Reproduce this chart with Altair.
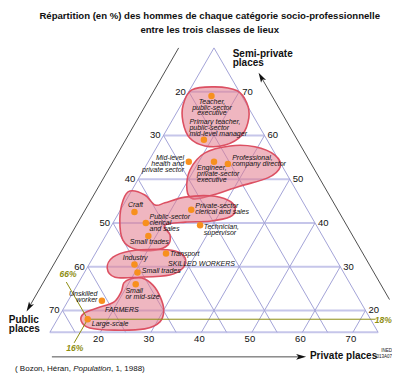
import altair as alt
import pandas as pd

# ---------------- data ----------------
title_lines = [
    "Répartition (en %) des hommes de chaque catégorie socio-professionnelle",
    "entre les trois classes de lieux",
]

categories = [
    "Teacher,\npublic-sector\nexecutive",
    "Primary teacher,\npublic-sector\nmid-level manager",
    "Mid-level\nhealth and\nprivate sector",
    "Engineer,\nprivate-sector\nexecutive",
    "Professional,\ncompany director",
    "Private-sector\nclerical and sales",
    "Technician,\nsupervisor",
    "Public-sector\nclerical\nand sales",
    "Craft",
    "Small trades",
    "Transport",
    "Industry",
    "Small trades",
    "Small\nor mid-size",
    "Unskilled\nworker",
    "Large-scale",
]
private_places = [15, 18.5, 18, 23, 26, 24, 27.5, 16.5, 13, 18.5, 24, 19, 20.5, 21.5, 16.7, 16]
semi_private = [69, 59, 54, 54, 53.5, 43, 39.5, 40, 42.5, 37, 33, 30.5, 28.7, 26, 22.2, 18]
public_places = [round(100 - p - s, 1) for p, s in zip(private_places, semi_private)]

group_names = ["SKILLED WORKERS", "FARMERS"]
group_private = [25.6, 18.4]
group_semi = [30.6, 20.0]

# outlines of the shaded groups, as (private %, semi-private %)
blob_private = {
    "A": [10.4, 14.6, 19.5, 22.8, 24.9, 25.5, 23.3, 19.4, 15.5, 12.3, 10.4],
    "B": [20.9, 19.2, 20.2, 24.4, 29.4, 34.3, 36.7, 35.5, 30.9, 26.1, 23.1],
    "C": [9.7, 13.1, 16.3, 18.0, 21.3, 26.1, 30.2, 32.5, 32.5, 29.0, 24.2, 20.5, 22.7,
          23.4, 21.4, 17.4, 13.9, 11.0, 9.4],
    "D": [14.0, 13.9, 16.6, 21.3, 25.5, 28.3, 29.0, 27.2, 21.5, 16.6],
    "E": [19.8, 22.0, 25.0, 27.8, 30.0, 30.6, 28.4, 22.6, 17.4, 14.9, 14.6, 16.7, 19.2,
          19.5, 19.0],
}
blob_semi = {
    "A": [70.4, 71.1, 70.2, 67.4, 64.0, 60.1, 57.8, 57.6, 59.4, 63.1, 67.0],
    "B": [47.5, 52.1, 56.0, 57.6, 57.4, 55.5, 52.8, 50.3, 48.4, 46.2, 45.5],
    "C": [47.3, 46.4, 44.1, 44.6, 45.9, 46.2, 45.2, 43.4, 41.4, 40.4, 40.2, 39.5, 37.2,
          35.0, 33.8, 34.0, 36.1, 40.7, 45.2],
    "D": [29.7, 32.2, 33.6, 34.0, 33.6, 32.0, 29.7, 28.1, 27.6, 27.6],
    "E": [27.2, 27.4, 25.8, 23.1, 20.1, 17.4, 15.8, 15.5, 16.0, 17.6, 19.4, 20.6, 21.9,
          24.2, 26.3],
}

# highlighted reading: large-scale farmers = 66 % public, 18 % semi-private, 16 % private
hl_public, hl_semi, hl_private = 66, 18, 16

grid_values = [10, 20, 30, 40, 50, 60, 70]
tick_values = [20, 30, 40, 50, 60, 70]
bottom_semi = 15  # lower edge of the drawn window

source_parts = ["( Bozon, Héran, ", "Population", ", 1, 1988)"]

# ---------------- layout ----------------
W, H = 384, 365
XD = [9.208, 85.248]
YD = [5.713, 89.12]
PXX = W / (XD[1] - XD[0])
PXY = H / (YD[1] - YD[0])
FONT = "Liberation Sans"


def tx(private, semi):
    return private + semi / 2.0


xs = alt.Scale(domain=XD, nice=False, zero=False)
ys = alt.Scale(domain=YD, nice=False, zero=False)
X = alt.X("x:Q", scale=xs, axis=None)
Y = alt.Y("y:Q", scale=ys, axis=None)

# grid segments
hrows, drows = [], []
for b in [bottom_semi] + tick_values:
    hrows.append(dict(x=tx(10, b), y=b, x2=tx(90 - b, b), y2=b))
for c in grid_values:  # constant private
    drows.append(dict(x=tx(c, bottom_semi), y=bottom_semi, x2=tx(c, 90 - c), y2=90 - c))
for a in grid_values:  # constant public
    c0 = 100 - a - bottom_semi
    drows.append(dict(x=tx(c0, bottom_semi), y=bottom_semi, x2=tx(10, 90 - a), y2=90 - a))

hgrid = alt.Chart(pd.DataFrame(hrows)).mark_rule(color="#c6c6ea", strokeWidth=2).encode(
    x=X, y=Y, x2="x2:Q", y2="y2:Q")
dgrid = alt.Chart(pd.DataFrame(drows)).mark_rule(color="#a4a4d8", strokeWidth=1).encode(
    x=X, y=Y, x2="x2:Q", y2="y2:Q")

# blobs
brows = []
for k in blob_private:
    for i, (p, s) in enumerate(zip(blob_private[k], blob_semi[k])):
        brows.append(dict(blob=k, i=i, x=tx(p, s), y=s))
blobs = alt.Chart(pd.DataFrame(brows)).mark_line(
    interpolate="cardinal-closed", fill="#e27a8c", fillOpacity=0.55,
    stroke="#dc5062", strokeWidth=1.6).encode(
    x=X, y=Y, detail="blob:N", order="i:Q")

# olive reading lines
olive = "#8e8e12"
orows = [
    dict(x=tx(hl_private, hl_semi), y=hl_semi, x2=tx(73.0, hl_semi), y2=hl_semi),
    dict(x=tx(hl_private, hl_semi), y=hl_semi, x2=tx(7.5, 26.5), y2=26.5),
    dict(x=tx(hl_private, hl_semi), y=hl_semi, x2=tx(hl_private, 12.6), y2=12.6),
]
olines = alt.Chart(pd.DataFrame(orows)).mark_rule(color=olive, strokeWidth=1).encode(
    x=X, y=Y, x2="x2:Q", y2="y2:Q")
odf = pd.DataFrame([
    dict(x=tx(7.3, 27.6), y=27.6, t=f"{hl_public}%", al="center"),
    dict(x=tx(17.1, 10.7), y=10.7, t=f"{hl_private}%", al="center"),
    dict(x=tx(73.3, 17.1), y=17.1, t=f"{hl_semi}%", al="left"),
])
okw = dict(font=FONT, fontSize=8.5, fontWeight="bold", fontStyle="italic", color=olive,
           baseline="alphabetic")
otext_c = alt.Chart(odf[odf.al == "center"]).mark_text(align="center", **okw).encode(
    x=X, y=Y, text="t:N")
otext_l = alt.Chart(odf[odf.al == "left"]).mark_text(align="left", **okw).encode(
    x=X, y=Y, text="t:N")

# outer axis arrows
arows = [
    dict(x=tx(3, 80), y=80, x2=tx(3, 20.8), y2=20.8),
    dict(x=tx(96 - 22.5, 22.5), y=22.5, x2=tx(96 - 73.3, 73.3), y2=73.3),
    dict(x=tx(13.2, 9.4), y=9.4, x2=tx(62.5, 9.4), y2=9.4),
]
alines = alt.Chart(pd.DataFrame(arows)).mark_rule(color="#222222", strokeWidth=0.8).encode(
    x=X, y=Y, x2="x2:Q", y2="y2:Q")
arrow_path = "M0,-1L0.55,0.9L0,0.45L-0.55,0.9Z"
heads = []
for r, ang in zip(arows, [210, 330, 90]):
    head = alt.Chart(pd.DataFrame([dict(x=r["x2"], y=r["y2"])])).mark_point(
        shape=arrow_path, filled=True, color="#111111", size=110, angle=ang, opacity=1).encode(
        x=X, y=Y)
    heads.append(head)

# points
pdf = pd.DataFrame(dict(name=categories, private=private_places, semi=semi_private,
                        public=public_places))
pdf["x"] = [tx(p, s) for p, s in zip(private_places, semi_private)]
pdf["y"] = semi_private
points = alt.Chart(pdf).mark_circle(size=42, color="#f7901e", opacity=1).encode(
    x=X, y=Y, tooltip=["name:N", "public:Q", "semi:Q", "private:Q"])

# point labels (pixel offsets from each point)
label_layout = [
    ("center", 0.5, 7.8), ("left", -14.5, -15.5), ("right", -4.7, -1.4),
    ("left", -17, 8.7), ("left", 4.3, -3.4), ("left", 4, -2), ("left", 3.7, 3.6),
    ("left", 3.7, -4), ("center", 1, -5.4), ("left", -18.5, 8.3), ("left", 4, 2.3),
    ("center", 0.7, -4.4), ("left", 4.3, 0.7), ("left", -10.3, 8.6),
    ("right", -4.5, -4.4), ("left", 4, 6.8),
]
lrows = []
for (al, dx, dy), name, x, y in zip(label_layout, categories, pdf["x"], pdf["y"]):
    lrows.append(dict(t=name, al=al, x=x + dx / PXX, y=y - dy / PXY))
ldf = pd.DataFrame(lrows)
label_layers = []
for al in ["left", "center", "right"]:
    label_layers.append(alt.Chart(ldf[ldf.al == al]).mark_text(
        font=FONT, fontSize=7, fontStyle="italic", align=al, baseline="alphabetic",
        lineBreak="\n", lineHeight=5.8, color="#111111").encode(x=X, y=Y, text="t:N"))

gdf = pd.DataFrame(dict(t=group_names, x=[tx(p, s) for p, s in zip(group_private, group_semi)],
                        y=group_semi))
groups = alt.Chart(gdf).mark_text(font=FONT, fontSize=7, fontStyle="italic", align="left",
                                  baseline="middle", color="#111111").encode(
    x=X, y=Y, text="t:N")

# tick labels
left_df = pd.DataFrame(dict(t=[str(90 - b) for b in tick_values[::-1]],
                            x=[tx(10, b) for b in tick_values[::-1]], y=tick_values[::-1]))
right_df = pd.DataFrame(dict(t=[str(b) for b in tick_values],
                             x=[tx(90 - b, b) for b in tick_values], y=tick_values))
bot_df = pd.DataFrame(dict(t=[str(c) for c in tick_values],
                           x=[tx(c, bottom_semi) for c in tick_values], y=[bottom_semi] * 6))
tick_kw = dict(font=FONT, fontSize=9.5, color="#111111", baseline="middle")
lt = alt.Chart(left_df).mark_text(align="right", dx=-3, **tick_kw).encode(x=X, y=Y, text="t:N")
rt = alt.Chart(right_df).mark_text(align="left", dx=3, **tick_kw).encode(x=X, y=Y, text="t:N")
bt = alt.Chart(bot_df).mark_text(align="center", dx=-2, dy=7, **tick_kw).encode(
    x=X, y=Y, text="t:N")

# axis names
names_df = pd.DataFrame([
    dict(t="Semi-private\nplaces", x=tx(14.7, 78.0), y=78.0),
    dict(t="Public\nplaces", x=tx(0.76, 17.2), y=17.2),
    dict(t="Private places", x=tx(64.6, 8.8), y=8.8),
])
names = alt.Chart(names_df).mark_text(font=FONT, fontSize=10, fontWeight="bold", align="left",
                                      baseline="alphabetic", lineBreak="\n", lineHeight=9.6,
                                      color="#111111").encode(x=X, y=Y, text="t:N")

# title
tdf = pd.DataFrame(dict(t=title_lines, x=[tx(5.9, 86.5), tx(7.4, 83.5)], y=[86.5, 83.5]))
title = alt.Chart(tdf).mark_text(font=FONT, fontSize=9.6, fontWeight="bold", align="center",
                                 baseline="alphabetic", color="#111111").encode(
    x=X, y=Y, text="t:N")

# source
sx, sy = tx(7.5, 6.17), 6.17
src_layers = []
offs = [0, 58.2, 96.0]
for part, off, style in zip(source_parts, offs, ["normal", "italic", "normal"]):
    src_layers.append(alt.Chart(pd.DataFrame([dict(t=part, x=sx, y=sy)])).mark_text(
        font=FONT, fontSize=8, fontStyle=style, align="left", baseline="alphabetic",
        dx=off, color="#111111").encode(x=X, y=Y, text="t:N"))
ined = alt.Chart(pd.DataFrame([dict(t="INED\n013A07", x=tx(80.0, 10.5), y=10.5)])).mark_text(
    font=FONT, fontSize=4.5, align="right", baseline="alphabetic", lineBreak="\n",
    lineHeight=5.5, color="#111111").encode(x=X, y=Y, text="t:N")

chart = alt.layer(
    hgrid, dgrid, blobs, olines, alines, *heads, points, *label_layers, groups,
    lt, rt, bt, names, title, *src_layers, ined, otext_c, otext_l,
).properties(width=W, height=H, padding=0, autosize="none").configure_view(stroke=None)

chart.save("out.html", embed_options={"renderer": "svg", "actions": False})
